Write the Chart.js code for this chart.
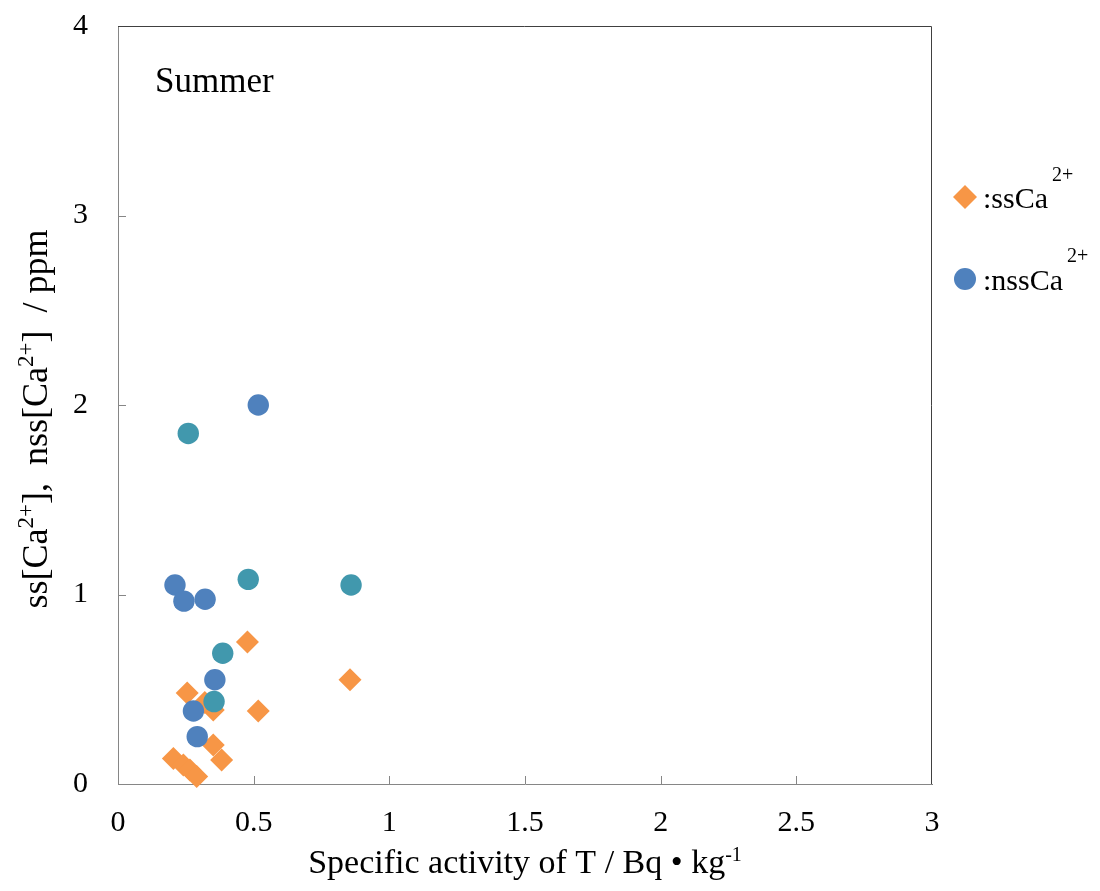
<!DOCTYPE html>
<html><head><meta charset="utf-8">
<script src="https://cdn.jsdelivr.net/npm/chart.js@4.4.1/dist/chart.umd.min.js"></script>
<style>html,body{margin:0;padding:0;background:#fff;}#wrap{width:1100px;height:891px;position:relative;}</style>
</head><body><div id="wrap"><canvas id="c" width="1100" height="891"></canvas></div>
<script>
// ---- data ----
const xTicks = [0, 0.5, 1, 1.5, 2, 2.5, 3];
const yTicks = [0, 1, 2, 3, 4];
const ssX  = [0.517, 0.255, 0.477, 0.855, 0.382, 0.351, 0.351, 0.320, 0.204, 0.241, 0.265, 0.290];
const ssY  = [0.385, 0.48, 0.75, 0.55, 0.127, 0.206, 0.39, 0.43, 0.135, 0.10, 0.074, 0.04];
const nssX = [0.517, 0.210, 0.243, 0.321, 0.357, 0.278, 0.292];
const nssY = [2.00, 1.05, 0.965, 0.975, 0.55, 0.385, 0.25];
const nss2X = [0.259, 0.480, 0.859, 0.386, 0.354];
const nss2Y = [1.85, 1.08, 1.05, 0.69, 0.435];
const panelLabel = 'Summer';

const pts = (xs, ys) => xs.map((v, i) => ({x: v, y: ys[i]}));
const SERIF = "'Liberation Serif', 'Times New Roman', serif";

function richWidth(ctx, parts) {
  let w = 0;
  parts.forEach(p => { ctx.font = p.size + 'px ' + SERIF; w += ctx.measureText(p.t).width; });
  return w;
}
function drawRich(ctx, parts, x, y) {
  let cx = x;
  parts.forEach(p => {
    ctx.font = p.size + 'px ' + SERIF;
    ctx.fillText(p.t, cx, y - (p.rise || 0));
    cx += ctx.measureText(p.t).width;
  });
  return cx;
}

const deco = {
  id: 'deco',
  beforeDatasetsDraw(chart) {
    const {ctx, chartArea: a, scales: {x, y}} = chart;
    ctx.save();
    ctx.lineWidth = 1;
    ctx.strokeStyle = '#404040';
    ctx.beginPath();
    ctx.moveTo(a.left, a.top + 0.5); ctx.lineTo(a.right - 0.5, a.top + 0.5); ctx.lineTo(a.right - 0.5, a.bottom);
    ctx.stroke();
    ctx.strokeStyle = '#868686';
    ctx.beginPath();
    x.ticks.forEach(t => {
      if (t.value > 0 && t.value < 3) {
        const px = Math.round(x.getPixelForValue(t.value)) + 0.5;
        ctx.moveTo(px, a.bottom); ctx.lineTo(px, a.bottom - 8);
      }
    });
    y.ticks.forEach(t => {
      if (t.value > 0 && t.value < 4) {
        const py = Math.round(y.getPixelForValue(t.value)) + 0.5;
        ctx.moveTo(a.left, py); ctx.lineTo(a.left + 8, py);
      }
    });
    ctx.stroke();
    ctx.restore();
  },
  afterDraw(chart) {
    const {ctx, chartArea: a} = chart;
    ctx.save();
    ctx.fillStyle = '#000';
    ctx.textBaseline = 'alphabetic';
    ctx.textAlign = 'left';
    // panel label
    ctx.font = '35px ' + SERIF;
    ctx.fillText(panelLabel, 155, 92);
    // x title
    const xt = [{t: 'Specific activity of T / Bq \u2022 kg', size: 34}, {t: '-1', size: 20, rise: 12}];
    const xw = richWidth(ctx, xt);
    drawRich(ctx, xt, (a.left + a.right) / 2 - xw / 2, 873);
    // y title
    const yt = [
      {t: 'ss[Ca', size: 36}, {t: '2+', size: 23, rise: 14}, {t: '],  nss[Ca', size: 36},
      {t: '2+', size: 23, rise: 14}, {t: ']  / ppm', size: 36}
    ];
    const yw = richWidth(ctx, yt);
    ctx.save();
    ctx.translate(47, (a.top + a.bottom) / 2 + 14);
    ctx.rotate(-Math.PI / 2);
    drawRich(ctx, yt, -yw / 2, 0);
    ctx.restore();
    // legend
    ctx.fillStyle = '#F79646';
    ctx.beginPath();
    ctx.moveTo(965 - 12, 197); ctx.lineTo(965, 185); ctx.lineTo(965 + 12, 197); ctx.lineTo(965, 209);
    ctx.closePath(); ctx.fill();
    ctx.fillStyle = '#4F81BD';
    ctx.beginPath(); ctx.arc(965, 279, 11, 0, Math.PI * 2); ctx.fill();
    ctx.fillStyle = '#000';
    let e = drawRich(ctx, [{t: ':ssCa', size: 30}], 983, 208);
    drawRich(ctx, [{t: '2+', size: 20}], e + 4, 181);
    e = drawRich(ctx, [{t: ':nssCa', size: 30}], 983, 290);
    drawRich(ctx, [{t: '2+', size: 20}], e + 4, 262);
    ctx.restore();
  }
};

new Chart(document.getElementById('c'), {
  type: 'scatter',
  data: {
    datasets: [
      {label: 'nssCa2+ (group 2)', data: pts(nss2X, nss2Y), pointStyle: 'circle', pointRadius: 10.7,
       backgroundColor: '#4198AD', borderColor: '#4198AD', borderWidth: 0, clip: false},
      {label: 'nssCa2+', data: pts(nssX, nssY), pointStyle: 'circle', pointRadius: 10.7,
       backgroundColor: '#4F81BD', borderColor: '#4F81BD', borderWidth: 0, clip: false},
      {label: 'ssCa2+', data: pts(ssX, ssY), pointStyle: 'rectRot', pointRadius: 11.5,
       backgroundColor: '#F79646', borderColor: '#F79646', borderWidth: 0, clip: false}
    ]
  },
  options: {
    responsive: false, animation: false, devicePixelRatio: 1,
    layout: {padding: {top: 26, right: 168, left: 0, bottom: 0}},
    plugins: {legend: {display: false}, tooltip: {enabled: false}},
    scales: {
      x: {
        type: 'linear', min: 0, max: 3,
        afterBuildTicks: s => { s.ticks = xTicks.map(v => ({value: v})); },
        afterFit: s => { s.height = 107; s.paddingLeft = 0; s.paddingRight = 0; },
        grid: {display: false, drawTicks: false},
        border: {display: true, color: '#868686', width: 1},
        ticks: {font: {family: SERIF, size: 30}, color: '#000', padding: 21, maxRotation: 0, autoSkip: false,
                callback: v => String(v)}
      },
      y: {
        type: 'linear', min: 0, max: 4,
        afterBuildTicks: s => { s.ticks = yTicks.map(v => ({value: v})); },
        afterFit: s => { s.width = 118; s.paddingTop = 0; s.paddingBottom = 0; },
        grid: {display: false, drawTicks: false},
        border: {display: true, color: '#868686', width: 1},
        ticks: {font: {family: SERIF, size: 30}, color: '#000', padding: 30, callback: v => String(v)}
      }
    }
  },
  plugins: [deco]
});
</script></body></html>
